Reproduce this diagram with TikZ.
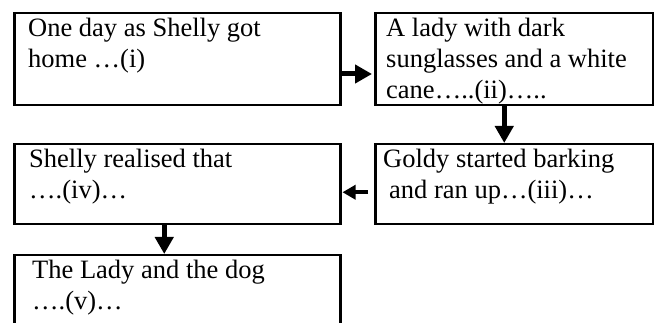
\documentclass[tikz,border=0pt]{standalone}
\usepackage{fontspec}
\setmainfont{Liberation Serif}
\usetikzlibrary{calc,arrows.meta}

\tikzset{
  box/.style={draw, line width=2.5pt, inner sep=0pt, anchor=north west},
  txt/.style={inner sep=0pt, anchor=north west, align=left,
    font=\fontsize{26.5}{31}\selectfont},
  arr/.style={line width=5pt, -{Triangle[length=17pt,width=18pt]}}
}

\begin{document}
\begin{tikzpicture}[x=1pt, y=-1pt]
\path[use as bounding box, clip] (0,0) rectangle (654,323);

\node[box, minimum width=326pt, minimum height=92pt] (b1) at (13,12) {};
\node[box, minimum width=278pt, minimum height=92pt] (b2) at (374,12) {};
\node[box, minimum width=278pt, minimum height=80pt] (b3) at (374,143) {};
\node[box, minimum width=326pt, minimum height=80pt] (b4) at (13,143) {};
\node[box, minimum width=326pt, minimum height=100pt] (b5) at (13,254) {};

\node[txt] (t1) at ($(b1.north west)+(15,6)$) {One day as Shelly got\\home …(i)};
\node[txt] (t2) at ($(b2.north west)+(12,6)$) {A lady with dark\\sunglasses and a white\\cane…..(ii)…..};
\node[txt] (t3) at ($(b3.north west)+(9,6)$) {Goldy started barking\\\hspace*{6pt}and ran up…(iii)…};
\node[txt] (t4) at ($(b4.north west)+(16,6)$) {Shelly realised that\\….(iv)…};
\node[txt] (t5) at ($(b5.north west)+(19,6)$) {The Lady and the dog\\….(v)…};

\draw[arr] ($(b1.north east)+(0,62)$) -- ($(b2.north west)+(-2,62)$);
\draw[arr] ($(b2.south)+(-10,0)$) -- ($(b3.north)+(-10,0)$);
\draw[arr, line width=4pt, -{Triangle[length=13pt,width=14pt]}]
  ($(b3.west)+(-6,8)$) -- ($(b4.east)+(1,8)$);
\draw[arr] ($(b4.south)+(-13,0)$) -- ($(b5.north)+(-13,0)$);
\end{tikzpicture}
\end{document}
